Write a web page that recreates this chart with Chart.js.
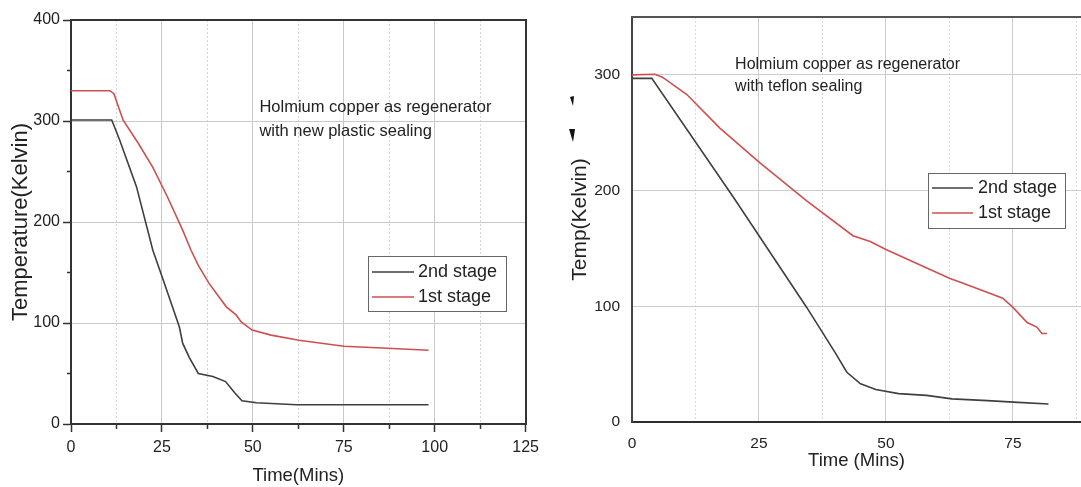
<!DOCTYPE html>
<html>
<head>
<meta charset="utf-8">
<script src="https://cdn.jsdelivr.net/npm/chart.js@4.4.1/dist/chart.umd.min.js"></script>
<style>
  html, body { margin: 0; padding: 0; background: #fff; }
  #wrap { position: relative; width: 1081px; height: 487px; overflow: hidden; }
  #leftBox  { position: absolute; left: 0;     top: 0; width: 545px; height: 487px; }
  #rightBox { position: absolute; left: 540px; top: 0; width: 541px; height: 487px; }
  canvas { display: block; }
</style>
</head>
<body>
<div id="wrap">
  <div id="leftBox"><canvas id="leftChart" width="545" height="487"></canvas></div>
  <div id="rightBox"><canvas id="rightChart" width="541" height="487"></canvas></div>
</div>
<script>
// ---- Run A: new plastic sealing (time in minutes, temperature in kelvin) ----
const plasticTime2nd = [0, 11.2, 13.4, 18, 22.5, 25.5, 29.8, 30.7, 32.5, 35, 39, 42.5, 45, 47, 51, 62, 80, 98.3];
const plasticTemp2nd = [301, 301, 281, 235, 172, 141, 96, 80, 66, 50, 47, 42, 31, 23, 21, 19, 19, 19];
const plasticTime1st = [0, 10.7, 11.8, 14.3, 18.5, 22.5, 26.5, 30.7, 33, 35, 38, 42.7, 45.4, 46.8, 49.8, 55, 62.7, 75, 87, 98.3];
const plasticTemp1st = [330, 330, 327, 301, 278, 254, 225, 192, 172, 157, 139, 116, 108, 101, 93, 88, 83, 77, 75, 73];

// ---- Run B: teflon sealing ----
const teflonTime2nd = [0, 3.9, 20, 34.4, 40, 42.3, 45, 48, 52.5, 58, 63, 70, 76, 82];
const teflonTemp2nd = [297, 297, 194, 99, 60, 43, 33, 28, 24.5, 23, 20, 18.5, 17, 15.5];
const teflonTime1st = [0, 4.5, 6, 10.8, 17.3, 25.2, 34.4, 43.5, 46.9, 50, 62.6, 65.2, 73, 75, 77.8, 79.7, 80.7, 81.7];
const teflonTemp1st = [300, 300.5, 298, 283, 254, 224, 191, 161, 156, 149, 124, 120, 107, 99, 86, 82, 76.5, 76.5];

// ---- Labels ----
const seriesNames = ['2nd stage', '1st stage'];
const plasticNote = ['Holmium copper as regenerator', 'with new plastic sealing'];
const teflonNote = ['Holmium copper as regenerator', 'with teflon sealing'];

const FONT = "'Liberation Sans', Arial, Helvetica, sans-serif";
const INK = '#222';
const DARK = '#3f3f3f';
const RED = '#cf4f50';

const toPoints = (xs, ys) => xs.map((x, i) => ({ x, y: ys[i] }));

// Text block anchored at a data position inside the plot
const noteText = {
  id: 'noteText',
  afterDatasetsDraw(chart, _args, o) {
    if (!o.lines) return;
    const { ctx, scales } = chart;
    const px = scales.x.getPixelForValue(o.at[0]);
    const py = scales.y.getPixelForValue(o.at[1]);
    ctx.save();
    ctx.font = o.size + 'px ' + FONT;
    ctx.fillStyle = INK;
    ctx.textAlign = 'left';
    ctx.textBaseline = 'middle';
    for (let i = 0; i < o.lines.length; i++) ctx.fillText(o.lines[i], px, py + i * o.gap);
    ctx.restore();
  }
};

// Boxed legend floating inside the plot area
const boxLegend = {
  id: 'boxLegend',
  afterDraw(chart, _args, o) {
    if (!o.box) return;
    const { ctx } = chart;
    const [bx, by, bw, bh] = o.box;
    ctx.save();
    ctx.fillStyle = '#fff';
    ctx.fillRect(bx, by, bw, bh);
    ctx.strokeStyle = '#666';
    ctx.lineWidth = 1;
    ctx.strokeRect(bx + 0.5, by + 0.5, bw, bh);
    ctx.font = o.size + 'px ' + FONT;
    ctx.textAlign = 'left';
    ctx.textBaseline = 'middle';
    chart.data.datasets.forEach((ds, i) => {
      const yy = by + o.rowTop + i * o.rowGap;
      ctx.strokeStyle = ds.borderColor;
      ctx.lineWidth = ds.borderWidth;
      ctx.beginPath();
      ctx.moveTo(bx + o.lineFrom, yy);
      ctx.lineTo(bx + o.lineTo, yy);
      ctx.stroke();
      ctx.fillStyle = INK;
      ctx.fillText(ds.label, bx + o.textAt, yy);
    });
    ctx.restore();
  }
};

// Two small dark wedges to the left of panel B's axis title
const sideWedges = {
  id: 'sideWedges',
  afterDraw(chart, _args, o) {
    if (!o.shapes) return;
    const { ctx } = chart;
    ctx.save();
    ctx.fillStyle = '#111';
    o.shapes.forEach(pts => {
      ctx.beginPath();
      ctx.moveTo(pts[0], pts[1]);
      for (let i = 2; i < pts.length; i += 2) ctx.lineTo(pts[i], pts[i + 1]);
      ctx.closePath();
      ctx.fill();
    });
    ctx.restore();
  }
};

function datasets(t2, T2, t1, T1) {
  return [
    { label: seriesNames[0], data: toPoints(t2, T2), borderColor: DARK, borderWidth: 1.6 },
    { label: seriesNames[1], data: toPoints(t1, T1), borderColor: RED, borderWidth: 1.6 }
  ];
}

const common = {
  responsive: false,
  animation: false,
  elements: { point: { radius: 0 }, line: { tension: 0, fill: false } },
  plugins: { legend: { display: false }, tooltip: { enabled: false } }
};

// ---- Panel A ----
new Chart(document.getElementById('leftChart'), {
  type: 'line',
  data: { datasets: datasets(plasticTime2nd, plasticTemp2nd, plasticTime1st, plasticTemp1st) },
  plugins: [noteText, boxLegend],
  options: {
    ...common,
    layout: { padding: { top: 20, right: 18, left: 0, bottom: 0 } },
    plugins: {
      ...common.plugins,
      noteText: { at: [51.8, 313], lines: plasticNote, size: 16.5, gap: 24 },
      boxLegend: { box: [368, 256, 138, 55], rowTop: 16, rowGap: 25, lineFrom: 4, lineTo: 46, textAt: 50, size: 18 }
    },
    scales: {
      x: {
        type: 'linear', position: 'bottom', min: 0, max: 125,
        afterFit: s => { s.height = 63; },
        ticks: { stepSize: 12.5, padding: 6, color: INK, font: { family: FONT, size: 16 },
                 maxRotation: 0, autoSkip: false,
                 callback: v => (v % 25 === 0 ? v : '') },
        grid: {
          color: c => (c.tick && c.tick.value % 25 !== 0) ? '#d6d6d6' : '#c9c9c9',
          lineWidth: 1, tickLength: 8, tickColor: '#333', tickWidth: 1.5,
          tickBorderDash: c => (c.tick && c.tick.value % 25 !== 0) ? [4, 100] : []
        },
        border: { color: '#333', width: 2,
                  dash: c => (c.tick && c.tick.value % 25 !== 0) ? [2, 2] : [] },
        title: { display: true, text: 'Time(Mins)', color: INK,
                 font: { family: FONT, size: 18.5 }, padding: { top: 0, bottom: 0 } }
      },
      y: {
        type: 'linear', position: 'left', min: 0, max: 400,
        afterFit: s => { s.width = 71; },
        ticks: { stepSize: 50, padding: 3, color: INK, font: { family: FONT, size: 16 },
                 callback: v => (v % 100 === 0 ? v : '') },
        grid: {
          color: c => (c.tick && c.tick.value % 100 !== 0) ? 'rgba(0,0,0,0)' : '#c9c9c9',
          lineWidth: 1, tickLength: 8, tickColor: '#333', tickWidth: 1.5,
          tickBorderDash: c => (c.tick && c.tick.value % 100 !== 0) ? [0, 4, 4, 100] : []
        },
        border: { color: '#333', width: 2 },
        title: { display: true, text: 'Temperature(Kelvin)', color: INK,
                 font: { family: FONT, size: 22 }, padding: { top: 8, bottom: 0 } }
      },
      xTop: {
        type: 'linear', axis: 'x', position: 'top', min: 0, max: 125,
        afterFit: s => { s.height = 0; },
        ticks: { display: false }, grid: { drawOnChartArea: false, drawTicks: false },
        border: { color: '#333', width: 2 }
      },
      yRight: {
        type: 'linear', axis: 'y', position: 'right', min: 0, max: 400,
        afterFit: s => { s.width = 0; },
        ticks: { display: false }, grid: { drawOnChartArea: false, drawTicks: false },
        border: { color: '#333', width: 2 }
      }
    }
  }
});

// ---- Panel B ----
new Chart(document.getElementById('rightChart'), {
  type: 'line',
  data: { datasets: datasets(teflonTime2nd, teflonTemp2nd, teflonTime1st, teflonTemp1st) },
  plugins: [noteText, boxLegend, sideWedges],
  options: {
    ...common,
    layout: { padding: { top: 17, right: 0, left: 0, bottom: 0 } },
    plugins: {
      ...common.plugins,
      noteText: { at: [20.3, 309], lines: teflonNote, size: 16, gap: 22 },
      boxLegend: { box: [388, 173, 137, 55], rowTop: 15, rowGap: 25, lineFrom: 4, lineTo: 45, textAt: 50, size: 18 },
      sideWedges: { shapes: [[30, 97, 34, 96, 33, 106], [29, 129, 35, 129, 33, 142]] }
    },
    scales: {
      x: {
        type: 'linear', position: 'bottom', min: 0, max: 88.4,
        afterFit: s => { s.height = 65; s.paddingRight = 0; s.paddingLeft = 0; },
        ticks: { stepSize: 12.5, includeBounds: false, padding: 12, color: INK,
                 font: { family: FONT, size: 15.5 }, maxRotation: 0, autoSkip: false,
                 callback: v => (v % 25 === 0 ? v : '') },
        grid: {
          color: c => (c.tick && c.tick.value % 25 !== 0) ? '#dadada' : '#cdcdcd',
          lineWidth: 1, drawTicks: false
        },
        border: { color: '#2e2e2e', width: 2,
                  dash: c => (c.tick && c.tick.value % 25 !== 0) ? [2, 2] : [] },
        title: { display: true, text: 'Time (Mins)', color: INK,
                 font: { family: FONT, size: 18.5 }, padding: { top: 0, bottom: 15 } }
      },
      y: {
        type: 'linear', position: 'left', min: 0, max: 350,
        afterFit: s => { s.width = 92; s.paddingTop = 0; s.paddingBottom = 0; },
        ticks: { stepSize: 100, includeBounds: false, padding: 12, color: INK,
                 font: { family: FONT, size: 15.5 } },
        grid: { color: '#cdcdcd', lineWidth: 1, drawTicks: false },
        border: { color: '#444', width: 2 },
        title: { display: true, text: 'Temp(Kelvin)', color: INK,
                 font: { family: FONT, size: 21 }, padding: { top: 28, bottom: 0 } }
      },
      xTop: {
        type: 'linear', axis: 'x', position: 'top', min: 0, max: 88.4,
        afterFit: s => { s.height = 0; s.paddingRight = 0; s.paddingLeft = 0; },
        ticks: { display: false }, grid: { drawOnChartArea: false, drawTicks: false },
        border: { color: '#555', width: 2 }
      }
    }
  }
});
</script>
</body>
</html>
